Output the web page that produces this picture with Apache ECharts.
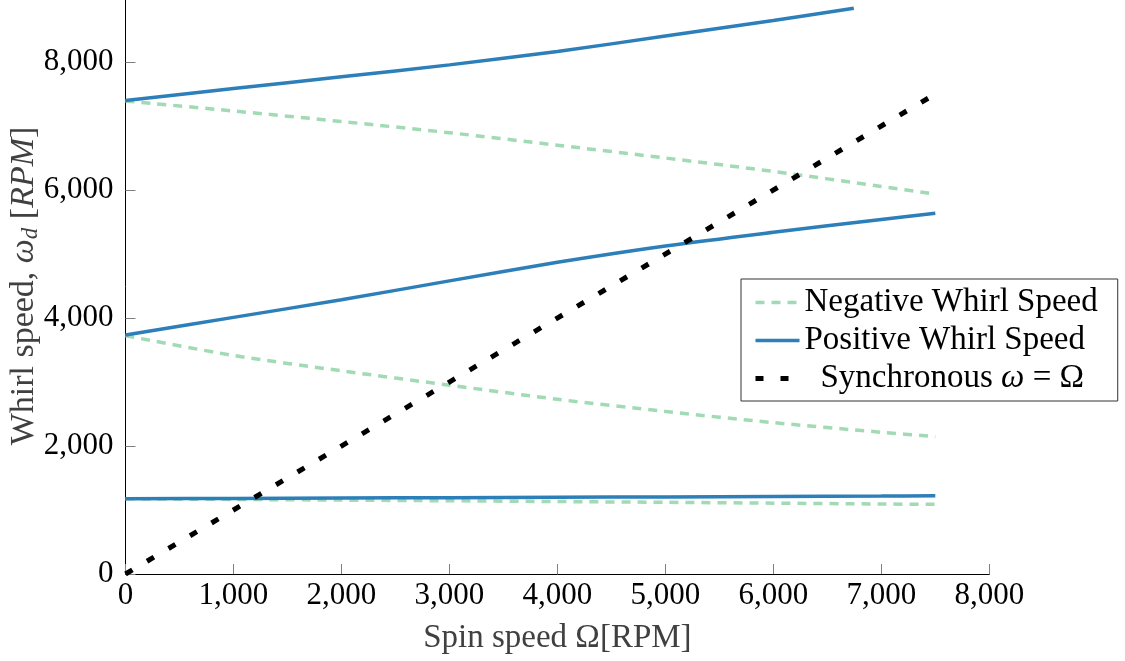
<!DOCTYPE html>
<html>
<head>
<meta charset="utf-8">
<script src="https://cdn.jsdelivr.net/npm/echarts@6/dist/echarts.min.js"></script>
<style>
  html, body { margin: 0; padding: 0; background: #fff; }
  #chart { width: 1125px; height: 661px; }
</style>
</head>
<body>
<div id="chart"></div>
<script>
// Spin speed samples (RPM)
const spin = [0, 1000, 2000, 3000, 4000, 5000, 6000, 7000, 7500];
const spinHigh = [0, 1000, 2000, 3000, 4000, 5000, 6000, 6745];

// Whirl speeds (RPM) for each mode
const posMode3 = [7400, 7585, 7770, 7955, 8165, 8405, 8650, 8840];
const negMode3 = [7390, 7235, 7070, 6895, 6700, 6500, 6290, 6055, 5937];
const posMode2 = [3734, 4010, 4285, 4580, 4870, 5125, 5340, 5540, 5636];
const negMode2 = [3724, 3415, 3175, 2950, 2730, 2540, 2365, 2215, 2146];
const posMode1 = [1175, 1181, 1187, 1193, 1199, 1205, 1211, 1217, 1222];
const negMode1 = [1175, 1165, 1155, 1144, 1132, 1120, 1107, 1094, 1088];

// Synchronous line ω = Ω
const syncX = [0, 7500];
const syncY = [0, 7500];

const xTicks = [0, 1000, 2000, 3000, 4000, 5000, 6000, 7000, 8000];
const yTicks = [0, 2000, 4000, 6000, 8000];

const NEG = 'Negative Whirl Speed';
const POS = 'Positive Whirl Speed';
const SYNC = 'Synchronous ω = Ω';

const FONT = '"Liberation Serif", "DejaVu Serif", serif';
const pair = (xs, ys) => ys.map((y, i) => [xs[i], y]);
const fmt = v => v.toLocaleString('en-US');

function negSeries(ys) {
  return {
    name: NEG, type: 'line', data: pair(spin, ys), symbol: 'none', smooth: 0.3,
    lineStyle: { color: '#a1dab4', width: 3.5, type: [9, 7] },
    itemStyle: { color: '#a1dab4' }, z: 2
  };
}
function posSeries(xs, ys) {
  return {
    name: POS, type: 'line', data: pair(xs, ys), symbol: 'none', smooth: 0.3,
    lineStyle: { color: '#2c7fb8', width: 3.5 },
    itemStyle: { color: '#2c7fb8' }, z: 3
  };
}

const chart = echarts.init(document.getElementById('chart'), null, { renderer: 'canvas' });
chart.setOption({
  animation: false,
  backgroundColor: '#fff',
  grid: {
    left: 125.5, right: 135.7, top: -2, bottom: 87,
    containLabel: false, outerBoundsMode: 'none'
  },
  legend: {
    orient: 'vertical',
    left: 741, top: 279,
    data: [NEG, POS, SYNC],
    itemWidth: 44, itemHeight: 14, itemGap: 5,
    padding: [7, 20, 6, 12],
    borderColor: '#333', borderWidth: 1,
    backgroundColor: '#fff',
    itemStyle: { opacity: 0 },
    lineStyle: { width: 'inherit' },
    formatter: n => n === SYNC
      ? '{sp|}{c|Synchronous }{i|ω}{c| = Ω}'
      : '{c|' + n + '}',
    textStyle: {
      fontFamily: FONT, fontSize: 33, color: '#000',
      rich: {
        sp: { width: 16 },
        c: { fontFamily: FONT, fontSize: 33, color: '#000' },
        i: { fontFamily: FONT, fontSize: 33, fontStyle: 'italic', color: '#000' }
      }
    }
  },
  xAxis: {
    type: 'value', min: 0, max: 8000, interval: 1000,
    name: 'Spin speed Ω[RPM]', nameLocation: 'middle', nameGap: 48,
    nameMoveOverlap: false,
    nameTextStyle: { fontFamily: FONT, fontSize: 33, color: '#404040' },
    axisLine: { show: true, lineStyle: { color: '#000', width: 1 } },
    axisTick: { show: true, inside: true, length: 10, lineStyle: { color: '#808080' } },
    splitLine: { show: false },
    axisLabel: {
      fontFamily: FONT, fontSize: 31, color: '#000', margin: 6,
      formatter: v => xTicks.includes(v) ? fmt(v) : ''
    }
  },
  yAxis: {
    type: 'value', min: 0, max: 9000, interval: 2000,
    name: '{a|Whirl speed, }{i|ω}{s|d}{a| [}{i|RPM}{a|]}',
    nameLocation: 'middle', nameRotate: 90, nameGap: 83,
    nameMoveOverlap: false,
    nameTextStyle: {
      fontFamily: FONT, fontSize: 34, color: '#404040',
      rich: {
        a: { fontFamily: FONT, fontSize: 34, color: '#404040' },
        i: { fontFamily: FONT, fontSize: 34, fontStyle: 'italic', color: '#404040' },
        s: { fontFamily: FONT, fontSize: 23, fontStyle: 'italic', color: '#404040', padding: [13, 0, 0, 0] }
      }
    },
    axisLine: { show: true, lineStyle: { color: '#000', width: 1 } },
    axisTick: { show: true, inside: true, length: 10, lineStyle: { color: '#808080' } },
    splitLine: { show: false },
    axisLabel: {
      fontFamily: FONT, fontSize: 31, color: '#000', margin: 12,
      formatter: v => yTicks.includes(v) ? fmt(v) : ''
    }
  },
  series: [
    negSeries(negMode3),
    negSeries(negMode2),
    negSeries(negMode1),
    posSeries(spinHigh, posMode3),
    posSeries(spin, posMode2),
    posSeries(spin, posMode1),
    {
      name: SYNC, type: 'line', data: pair(syncX, syncY), symbol: 'none',
      lineStyle: { color: '#000', width: 5, type: [8, 17] },
      itemStyle: { color: '#000' }, z: 4
    }
  ]
});
</script>
</body>
</html>
